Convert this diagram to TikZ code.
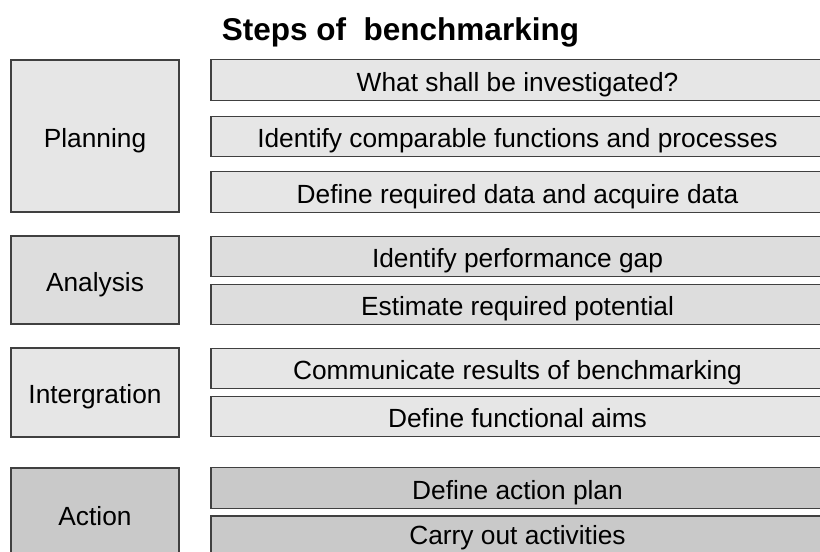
\documentclass[tikz,border=0pt]{standalone}
\usepackage{fontspec}
\setmainfont{Liberation Sans}
\definecolor{fA}{HTML}{E6E6E6}
\definecolor{fB}{HTML}{DDDDDD}
\definecolor{fC}{HTML}{C9C9C9}
\definecolor{edge}{HTML}{404040}
\begin{document}
\begin{tikzpicture}[x=1pt,y=-1pt,
  box/.style={draw=edge,line width=1.3pt,inner sep=0pt,outer sep=0pt,
    font=\fontsize{26.3}{30}\selectfont,text height=22.5pt,text depth=0pt},
  ttl/.style={font=\bfseries\fontsize{31.5}{36}\selectfont,anchor=base}]
\clip (0,0) rectangle (820,552);
\fill[white] (0,0) rectangle (820,552);
\node[ttl] (title) at (400.5,40.7) {Steps of \ benchmarking};
% left column
\node[box,fill=fA,minimum width=168pt,minimum height=152pt] (plan) at (95,136) {Planning};
\node[box,fill=fB,minimum width=168pt,minimum height=88pt] (anal) at (95,280) {Analysis};
\node[box,fill=fA,minimum width=168pt,minimum height=89pt] (integ) at (95,392.5) {Intergration};
\node[box,fill=fC,minimum width=168pt,minimum height=92pt] (act) at (95,514) {Action};
% right column
\tikzset{rb/.style={box,minimum width=613pt,minimum height=40.5pt}}
\node[rb,fill=fA] (r1) at (517.5,80) {What shall be investigated?};
\node[rb,fill=fA] (r2) at (517.5,136.5) {Identify comparable functions and processes};
\node[rb,fill=fA] (r3) at (517.5,192) {Define required data and acquire data};
\node[rb,fill=fB] (r4) at (517.5,256.5) {Identify performance gap};
\node[rb,fill=fB] (r5) at (517.5,304.5) {Estimate required potential};
\node[rb,fill=fA] (r6) at (517.5,368.5) {Communicate results of benchmarking};
\node[rb,fill=fA] (r7) at (517.5,416.5) {Define functional aims};
\node[rb,fill=fC] (r8) at (517.5,488) {Define action plan};
\node[rb,fill=fC,minimum height=44pt,text height=13pt] (r9) at (517.5,538) {Carry out activities};
\end{tikzpicture}
\end{document}
